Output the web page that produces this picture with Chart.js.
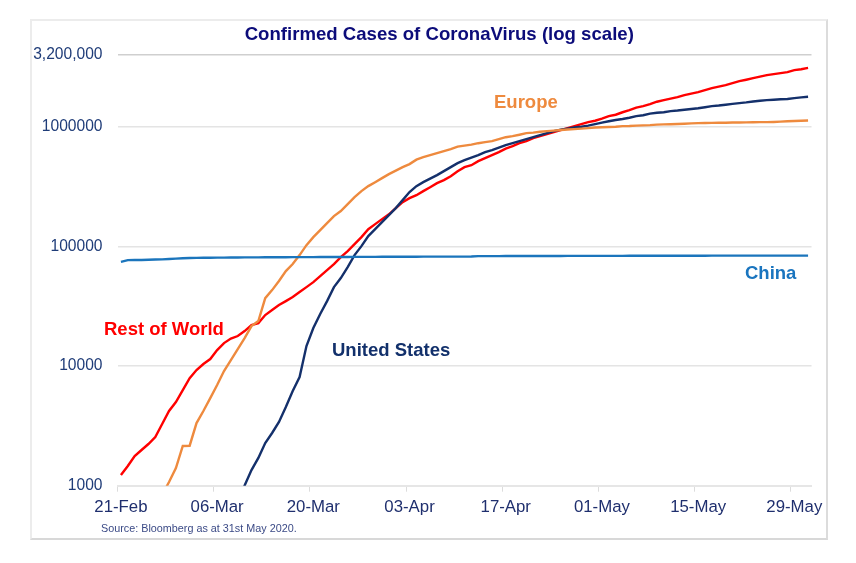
<!DOCTYPE html>
<html>
<head>
<meta charset="utf-8">
<title>Confirmed Cases of CoronaVirus</title>
<script src="https://cdn.jsdelivr.net/npm/chart.js@4"></script>
<style>
    body { margin: 0; background: #fff; font-family: "Liberation Sans", Arial, sans-serif; }
    #wrap { position: relative; width: 856px; height: 563px; overflow: hidden; }
    #frame { position: absolute; left: 30px; top: 19px; width: 794px; height: 517px;
             border: 2px solid #ececec; border-right-color: #dcdcdc; border-bottom-color: #d8d8d8; }
    canvas { position: absolute; left: 0; top: 0; }
    .lbl { position: absolute; font-weight: bold; font-size: 18.5px; line-height: 22px; white-space: nowrap; }
    #source { position: absolute; left: 101px; top: 521px; font-size: 10.8px; line-height: 14px; color: #3b4a86; }
</style>
</head>
<body>
<div id="wrap">
    <div id="frame"></div>
    <canvas id="casesChart" width="856" height="563"></canvas>
    <div class="lbl" style="left:494px;top:91px;color:#ee8a3e">Europe</div>
    <div class="lbl" style="left:104px;top:318px;color:#ff0000">Rest of World</div>
    <div class="lbl" style="left:332px;top:339px;color:#12306b">United States</div>
    <div class="lbl" style="left:745px;top:262px;color:#1a75bf">China</div>
    <div id="source">Source: Bloomberg as at 31st May 2020.</div>
</div>
<script>
const titleText = 'Confirmed Cases of CoronaVirus (log scale)';

const days = [
    '21-Feb','22-Feb','23-Feb','24-Feb','25-Feb','26-Feb','27-Feb','28-Feb','29-Feb',
    '01-Mar','02-Mar','03-Mar','04-Mar','05-Mar','06-Mar','07-Mar','08-Mar','09-Mar','10-Mar',
    '11-Mar','12-Mar','13-Mar','14-Mar','15-Mar','16-Mar','17-Mar','18-Mar','19-Mar','20-Mar',
    '21-Mar','22-Mar','23-Mar','24-Mar','25-Mar','26-Mar','27-Mar','28-Mar','29-Mar','30-Mar','31-Mar',
    '01-Apr','02-Apr','03-Apr','04-Apr','05-Apr','06-Apr','07-Apr','08-Apr','09-Apr','10-Apr',
    '11-Apr','12-Apr','13-Apr','14-Apr','15-Apr','16-Apr','17-Apr','18-Apr','19-Apr','20-Apr',
    '21-Apr','22-Apr','23-Apr','24-Apr','25-Apr','26-Apr','27-Apr','28-Apr','29-Apr','30-Apr',
    '01-May','02-May','03-May','04-May','05-May','06-May','07-May','08-May','09-May','10-May',
    '11-May','12-May','13-May','14-May','15-May','16-May','17-May','18-May','19-May','20-May',
    '21-May','22-May','23-May','24-May','25-May','26-May','27-May','28-May','29-May','30-May','31-May'
];

const restOfWorld = [
    1229,1462,1771,1988,2232,2554,3280,4214,5012,6310,7943,9270,10420,11470,13640,15600,17020,17860,19650,22080,
    22910,26740,29440,32430,35000,37840,41690,45820,50470,56620,63500,71300,81650,91600,104700,120000,139900,154100,169800,186200,
    209900,235500,254100,269200,291100,314100,339600,359700,388200,427600,462400,479700,518800,549500,582100,616600,660700,691800,732800,762100,
    807200,839500,873000,907800,944100,979500,1018600,1056800,1099000,1129800,1174900,1233000,1267700,1330000,1383600,1452100,1496200,1552400,1629300,1678800,
    1729800,1778300,1849300,1905500,1958800,2037000,2113500,2177700,2243900,2328200,2421000,2488800,2564500,2642200,2716400,2773300,2825000,2877000,2992000,3048000,3126000
];

const europe = [
    null,null,null,null,null,null,840,1074,1406,2148,2160,3342,4214,5408,6950,9100,11250,13900,17180,21630,
    23820,37070,43250,51520,62370,71450,84920,102800,120000,137400,157400,179900,198200,226500,259400,291100,320600,345900,374100,403600,
    431500,462400,489800,533300,559800,582100,605300,629500,653100,685500,699800,712900,732800,748200,762100,792500,822200,839500,863000,889000,
    897500,914100,924700,933300,944100,952800,961600,970500,979500,990800,995400,1002300,1007000,1018600,1021000,1028000,1032800,1037500,1047100,1052000,
    1056800,1061700,1066600,1074000,1078900,1081000,1083000,1085000,1087000,1091000,1093000,1095000,1097000,1099000,1099000,1103000,1110000,1119000,1125000,1130000,1134000
];

const unitedStates = [
    null,null,null,null,null,null,null,null,null,null,null,null,null,null,null,null,null,774,1005,1352,
    1706,2275,2761,3412,4550,6194,8110,14720,20840,27290,35000,45820,54580,67450,84920,100900,122500,139900,160300,183200,
    209900,244900,285800,320600,345900,370700,396300,427600,462400,498900,528400,554600,582100,616600,641200,673000,706300,732800,762100,792500,
    822200,855100,889000,924700,952800,970500,990800,1007000,1028000,1056800,1089000,1119000,1146000,1169000,1197000,1233000,1256000,1294000,1318000,1330000,
    1358000,1374000,1396000,1415000,1438000,1466000,1496000,1514000,1538000,1563000,1585000,1607000,1637000,1660000,1679000,1694000,1706000,1718000,1746000,1770000,1791000
];

const china = [
    74600,77000,77200,77300,77700,78000,78200,78800,79400,80000,80300,80500,80600,80700,80800,80900,81000,81100,81200,81300,
    81300,81400,81400,81500,81500,81600,81600,81700,81700,81800,81800,81900,81900,81900,82000,82000,82100,82100,82200,82200,
    82200,82300,82300,82300,82400,82400,82400,82400,82500,82500,82500,82600,83200,83300,83300,83300,83400,83400,83400,83400,
    83500,83500,83500,83500,83500,83600,83600,83600,83600,83700,83700,83700,83700,83700,83800,83800,83800,83800,83800,83800,
    83900,83900,83900,83900,83900,83900,84000,84000,84000,84000,84000,84000,84000,84100,84100,84100,84100,84100,84100,84100,84100
];

// the top gridline sits above where 3.2m falls, the source chart just labels it that way
const yTickValues = [1000, 10000, 100000, 1000000, 4020000];
const yTickLabels = ['1000', '10000', '100000', '1000000', '3,200,000'];
const xTickEvery = 14;

const makeLine = (label, data, color) => ({
    label,
    data,
    borderColor: color,
    borderWidth: 2.4,
    pointRadius: 0,
    tension: 0,
    spanGaps: false,
});

// title is centred a bit right of the canvas middle in the original
const nudgeTitle = {
    id: 'nudgeTitle',
    afterLayout(chart) {
        chart.titleBlock.left += 33.5;
        chart.titleBlock.right += 33.5;
    },
};

new Chart(document.getElementById('casesChart').getContext('2d'), {
    type: 'line',
    data: {
        labels: days,
        datasets: [
            makeLine('China', china, '#1b75bc'),
            makeLine('Europe', europe, '#ee8a3e'),
            makeLine('United States', unitedStates, '#14306b'),
            makeLine('Rest of World', restOfWorld, '#ff0000'),
        ],
    },
    plugins: [nudgeTitle],
    options: {
        responsive: false,
        animation: false,
        layout: { padding: { top: 0, left: 0, right: 44.5, bottom: 0 } },
        plugins: {
            legend: { display: false },
            tooltip: { enabled: false },
            title: {
                display: true,
                text: titleText,
                color: '#0c0c7a',
                font: { family: '"Liberation Sans"', size: 18.6, weight: 'bold', lineHeight: 1.2 },
                padding: { top: 23.5, bottom: 9 },
            },
        },
        scales: {
            x: {
                offset: true,
                afterFit: (scale) => { scale.height = 77.3; },
                border: { color: '#e6e6e6', width: 2 },
                grid: {
                    offset: true,
                    drawOnChartArea: false,
                    tickLength: 6,
                    tickWidth: 1,
                    tickColor: (ctx) => (ctx.index % xTickEvery === 0 ? '#dcdcdc' : 'transparent'),
                },
                ticks: {
                    autoSkip: false,
                    maxRotation: 0,
                    padding: 6,
                    color: '#1f2f6e',
                    font: { family: '"Liberation Sans"', size: 16.8 },
                    callback: (value, index) => (index % xTickEvery === 0 ? days[index] : ''),
                },
            },
            y: {
                type: 'logarithmic',
                min: 1000,
                max: 4020000,
                afterFit: (scale) => { scale.width = 117.5; },
                afterBuildTicks: (scale) => {
                    scale.ticks = yTickValues.map((value) => ({ value }));
                },
                border: { display: false },
                grid: {
                    drawTicks: false,
                    lineWidth: 1.5,
                    color: (ctx) => (ctx.index === yTickValues.length - 1 ? '#cfcfcf' : '#e4e4e4'),
                },
                ticks: {
                    autoSkip: false,
                    padding: 15,
                    color: '#1f3c78',
                    font: { family: '"Liberation Sans"', size: 15.6 },
                    callback: (value, index) => yTickLabels[index],
                },
            },
        },
    },
});
</script>
</body>
</html>
